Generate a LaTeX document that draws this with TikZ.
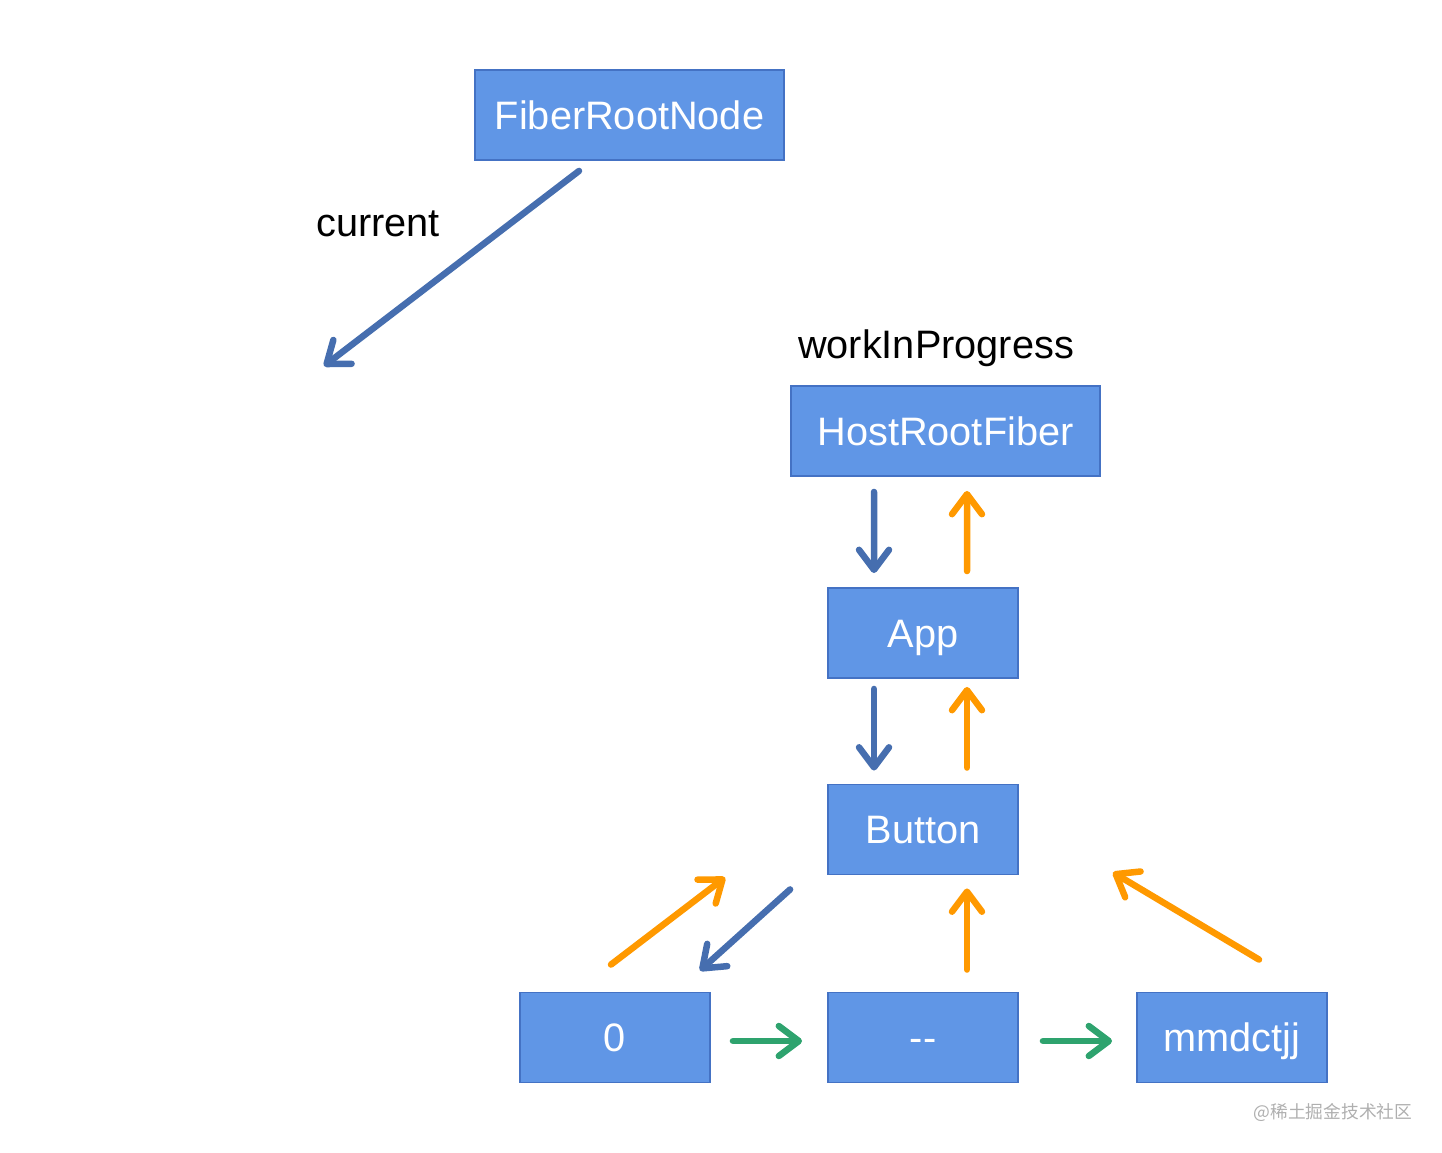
\documentclass[tikz,border=0pt]{standalone}
\usepackage{fontspec}
\setmainfont{Liberation Sans}
\newfontfamily\cjk{Noto Sans CJK SC}
\usetikzlibrary{arrows.meta,calc}
\definecolor{boxfill}{RGB}{96,150,230}
\definecolor{boxline}{RGB}{68,114,196}
\definecolor{barrow}{RGB}{70,110,175}
\definecolor{oarrow}{RGB}{255,153,0}
\definecolor{garrow}{RGB}{46,163,110}
\definecolor{wmark}{RGB}{175,175,175}
\tikzset{
  fbox/.style={draw=boxline, line width=1.1pt, fill=boxfill, text=white, minimum height=1.8cm, inner sep=0pt, text height=16.2pt, text depth=0pt, font=\fontsize{22.6}{27}\selectfont},
  wide/.style={minimum width=6.18cm},
  narrow/.style={minimum width=3.8cm},
  lbl/.style={text=black, inner sep=0pt, font=\fontsize{22.6}{27}\selectfont},
  arr/.style={line width=3.7pt, line cap=round, line join=round, -{Straight Barb[length=0.4cm, width=0.6cm, round]}},
  barr/.style={arr, draw=barrow},
  oarr/.style={arr, draw=oarrow},
  garr/.style={arr, draw=garrow},
}
\begin{document}
\begin{tikzpicture}[x=0.02cm, y=-0.02cm]
\useasboundingbox (0,0) rectangle (1442,1152);
\node[fbox, wide] (frn) at (629.5,115) {FiberRootNode};
\node[fbox, wide] (hrf) at (945.5,431) {HostRootFiber};
\node[fbox, narrow] (app) at (923,633) {App};
\node[fbox, narrow] (btn) at (923,829.5) {Button};
\node[fbox, narrow] (zero) at (615,1037.5) {0};
\node[fbox, narrow] (dash) at (923,1037.5) {-{}-};
\node[fbox, narrow] (mm) at (1232,1037.5) {mmdctjj};
\node[lbl] (curl) at (378,224) {current};
\node[lbl] (wipl) at (936,348) {workInProgress};
\node[text=wmark, inner sep=0pt, font=\cjk\fontsize{10.1}{12}\selectfont] (wm) at (1333,1112) {@稀土掘金技术社区};
\coordinate (cur) at (324,366);
% current
\draw[barr] ([xshift=-1.01cm,yshift=-0.2cm]frn.south) -- (cur);
% HostRootFiber <-> App
\draw[barr] ([xshift=-1.43cm,yshift=-0.3cm]hrf.south) -- ([xshift=-0.98cm,yshift=0.28cm]app.north);
\draw[oarr] ([xshift=0.88cm,yshift=0.32cm]app.north) -- ([xshift=0.43cm,yshift=-0.28cm]hrf.south);
% App <-> Button
\draw[barr] ([xshift=-0.98cm,yshift=-0.2cm]app.south) -- ([xshift=-0.98cm,yshift=0.26cm]btn.north);
\draw[oarr] ([xshift=0.88cm,yshift=0.32cm]btn.north) -- ([xshift=0.88cm,yshift=-0.16cm]app.south);
% Button <-> children
\draw[barr] ([xshift=-0.74cm,yshift=-0.28cm]btn.south west) -- ([xshift=-0.22cm,yshift=0.42cm]zero.north east);
\draw[oarr] ([xshift=-0.08cm,yshift=0.54cm]zero.north) -- ([xshift=-2.04cm,yshift=-0.04cm]btn.south west);
\draw[oarr] ([xshift=0.88cm,yshift=0.44cm]dash.north) -- ([xshift=0.88cm,yshift=-0.26cm]btn.south);
\draw[oarr] ([xshift=0.54cm,yshift=0.64cm]mm.north) -- ([xshift=1.88cm,yshift=0.06cm]btn.south east);
% siblings
\draw[garr] ([xshift=0.44cm,yshift=-0.07cm]zero.east) -- ([xshift=-0.5cm,yshift=-0.07cm]dash.west);
\draw[garr] ([xshift=0.48cm,yshift=-0.07cm]dash.east) -- ([xshift=-0.48cm,yshift=-0.07cm]mm.west);
\end{tikzpicture}
\end{document}
